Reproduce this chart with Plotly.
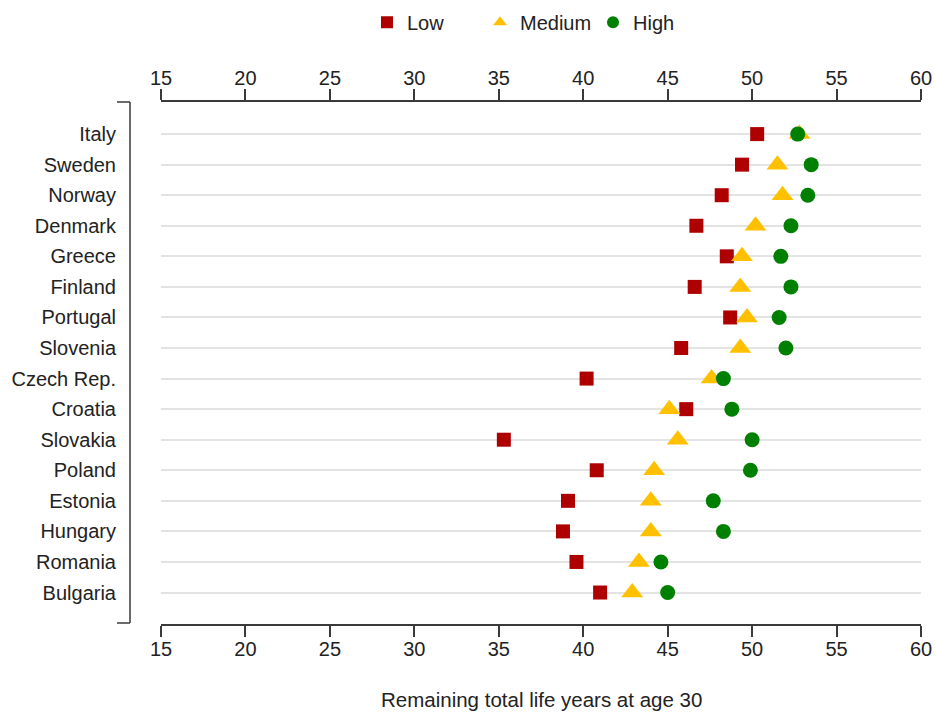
import plotly.graph_objects as go

countries = ["Italy", "Sweden", "Norway", "Denmark", "Greece", "Finland", "Portugal",
             "Slovenia", "Czech Rep.", "Croatia", "Slovakia", "Poland", "Estonia",
             "Hungary", "Romania", "Bulgaria"]
low = [50.3, 49.4, 48.2, 46.7, 48.5, 46.6, 48.7, 45.8, 40.2, 46.1, 35.3, 40.8, 39.1, 38.8, 39.6, 41.0]
medium = [52.8, 51.5, 51.8, 50.2, 49.4, 49.3, 49.7, 49.3, 47.6, 45.1, 45.6, 44.2, 44.0, 44.0, 43.3, 42.9]
high = [52.7, 53.5, 53.3, 52.3, 51.7, 52.3, 51.6, 52.0, 48.3, 48.8, 50.0, 49.9, 47.7, 48.3, 44.6, 45.0]
tick_vals = [15, 20, 25, 30, 35, 40, 45, 50, 55, 60]

FONT = "Liberation Sans, Arial, sans-serif"
TXT = "#222222"
AX = "#3a3a3a"
FS = 20

fig = go.Figure()
fig.add_trace(go.Scatter(x=low, y=countries, mode="markers", name="Low",
                         marker=dict(symbol="square", size=14, color="#AF0000")))
fig.add_trace(go.Scatter(x=medium, y=countries, mode="markers", name="Medium",
                         marker=dict(symbol="triangle-up", size=19, color="#FFC000")))
fig.add_trace(go.Scatter(x=high, y=countries, mode="markers", name="High",
                         marker=dict(symbol="circle", size=15, color="#008000")))
# invisible trace to anchor the top axis
fig.add_trace(go.Scatter(x=[15, 60], y=[countries[0], countries[0]], xaxis="x2",
                         mode="markers", marker=dict(opacity=0), showlegend=False,
                         hoverinfo="skip"))

n = len(countries)
fig.update_layout(
    width=935, height=714,
    margin=dict(l=161, r=14, t=102, b=90, autoexpand=False),
    paper_bgcolor="white", plot_bgcolor="white",
    font=dict(family=FONT, size=FS, color=TXT),
    showlegend=True,
    legend=dict(orientation="h", x=(367 - 161) / 760, xanchor="left",
                y=1 + 80 / 523, yanchor="middle", entrywidth=68, entrywidthmode="pixels",
                font=dict(size=FS, color=TXT), itemsizing="constant",
                bgcolor="rgba(0,0,0,0)", borderwidth=0),
    xaxis=dict(range=[15, 60], tickvals=tick_vals, showgrid=False, zeroline=False,
               showline=True, linecolor=AX, linewidth=1.5, ticks="outside",
               ticklen=11, tickwidth=1.5, tickcolor=AX, ticklabelstandoff=-5,
               tickfont=dict(size=FS, color=TXT)),
    xaxis2=dict(range=[15, 60], tickvals=tick_vals, overlaying="x", side="top",
                showgrid=False, zeroline=False, showline=True, linecolor=AX,
                linewidth=1.5, ticks="outside", ticklen=11, tickwidth=1.5,
                tickcolor=AX, ticklabelstandoff=-4, tickfont=dict(size=FS, color=TXT)),
    yaxis=dict(categoryorder="array", categoryarray=countries,
               range=[n - 1 + 1.03, -1.05], showgrid=True, gridcolor="#e3e3e3",
               gridwidth=1.5, zeroline=False, showline=False, ticks="",
               ticklabelstandoff=44, tickfont=dict(size=FS, color=TXT)),
)

# left bracket axis line
xl = -31 / 760
xt = -44 / 760
y_top = 1.0
y_bot = 1 / 523
fig.add_shape(type="line", xref="paper", yref="paper", x0=xl, x1=xl, y0=y_bot, y1=y_top,
              line=dict(color=AX, width=1.5))
fig.add_shape(type="line", xref="paper", yref="paper", x0=xt, x1=xl, y0=y_top, y1=y_top,
              line=dict(color=AX, width=1.5))
fig.add_shape(type="line", xref="paper", yref="paper", x0=xt, x1=xl, y0=y_bot, y1=y_bot,
              line=dict(color=AX, width=1.5))

fig.add_annotation(text="Remaining total life years at age 30", xref="paper", yref="paper",
                   x=(541 - 161) / 760, y=-76 / 523, xanchor="center", yanchor="middle",
                   showarrow=False, font=dict(size=20.5, color=TXT))

fig.write_html("out.html", config={"displayModeBar": False},
               post_script="document.body.style.margin='0';")
